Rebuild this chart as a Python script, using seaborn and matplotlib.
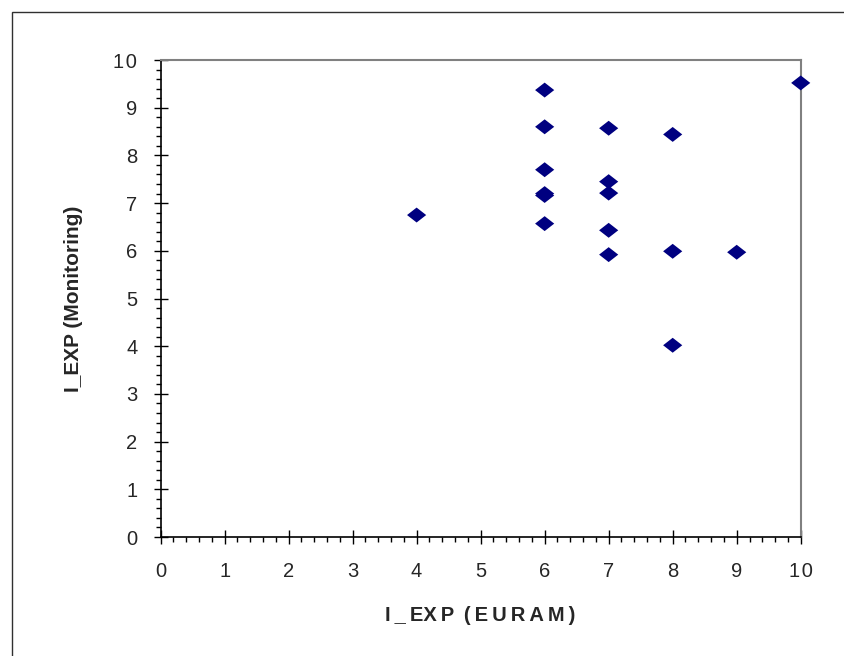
import matplotlib
matplotlib.use("Agg")
import matplotlib.pyplot as plt
import seaborn as sns
import pandas as pd
import numpy as np
from matplotlib.path import Path
from matplotlib.patches import Rectangle
from matplotlib.ticker import MultipleLocator, FuncFormatter

euram = [4, 6, 6, 6, 6, 6, 6, 7, 7, 7, 7, 7, 8, 8, 8, 9, 10]
monitoring = [6.75, 9.37, 8.60, 7.70, 7.20, 7.16, 6.57, 8.57, 7.45, 7.21, 6.43, 5.92, 8.44, 5.99, 4.02, 5.97, 9.52]
x_label = "I_EXP (EURAM)"
y_label = "I_EXP (Monitoring)"

df = pd.DataFrame({"x": euram, "y": monitoring})

sns.set_style("white")
plt.rcParams['font.family'] = ['Liberation Sans', 'DejaVu Sans']

fig = plt.figure(figsize=(8.45, 6.56), dpi=100)
ax = fig.add_axes([0.190, 0.1814, 0.7576, 0.7271])

diamond = Path([(-1, 0), (0, 0.78), (1, 0), (0, -0.78), (-1, 0)],
               [Path.MOVETO, Path.LINETO, Path.LINETO, Path.LINETO, Path.CLOSEPOLY])
sns.scatterplot(data=df, x="x", y="y", ax=ax, marker=diamond, s=190,
                color="#000080", edgecolor="none", clip_on=False, zorder=5)

ax.set_xlim(0, 10)
ax.set_ylim(0, 10)
ax.xaxis.set_major_locator(MultipleLocator(1))
ax.yaxis.set_major_locator(MultipleLocator(1))
ax.xaxis.set_minor_locator(MultipleLocator(0.2))
ax.yaxis.set_minor_locator(MultipleLocator(0.2))

def fmt(v, pos):
    return "\u200a".join(str(int(round(v))))

ax.xaxis.set_major_formatter(FuncFormatter(fmt))
ax.yaxis.set_major_formatter(FuncFormatter(fmt))
ax.tick_params(which="major", direction="inout", length=9.5, width=1.0, color="black",
               labelsize=14.5)
ax.tick_params(which="minor", direction="out", length=3.8, width=1.0, color="black")
ax.tick_params(axis="x", which="major", pad=13)
ax.tick_params(axis="y", which="major", pad=12)
ax.tick_params(axis="x", which="both", bottom=True)
ax.tick_params(axis="y", which="both", left=True)

for s in ["left", "bottom"]:
    ax.spines[s].set_color("black")
    ax.spines[s].set_linewidth(1.2)
for s in ["top", "right"]:
    ax.spines[s].set_color("#808080")
    ax.spines[s].set_linewidth(1.5)

spaced_x = "I\u2009_\u2009EX\u2009P\u2009 (\u2009E\u2009U\u2009R\u2009A\u2009M\u2009)"
ax.set_xlabel(spaced_x, fontsize=14.5, fontweight="bold", labelpad=18)
ax.set_ylabel(y_label, fontsize=15, fontweight="bold", labelpad=22)

fig.patches.append(Rectangle((12/845, -0.1), 1.2, (656-12)/656 + 0.1,
                             transform=fig.transFigure, fill=False,
                             edgecolor="#303030", linewidth=1.0))

fig.savefig("out.png", dpi=100)
